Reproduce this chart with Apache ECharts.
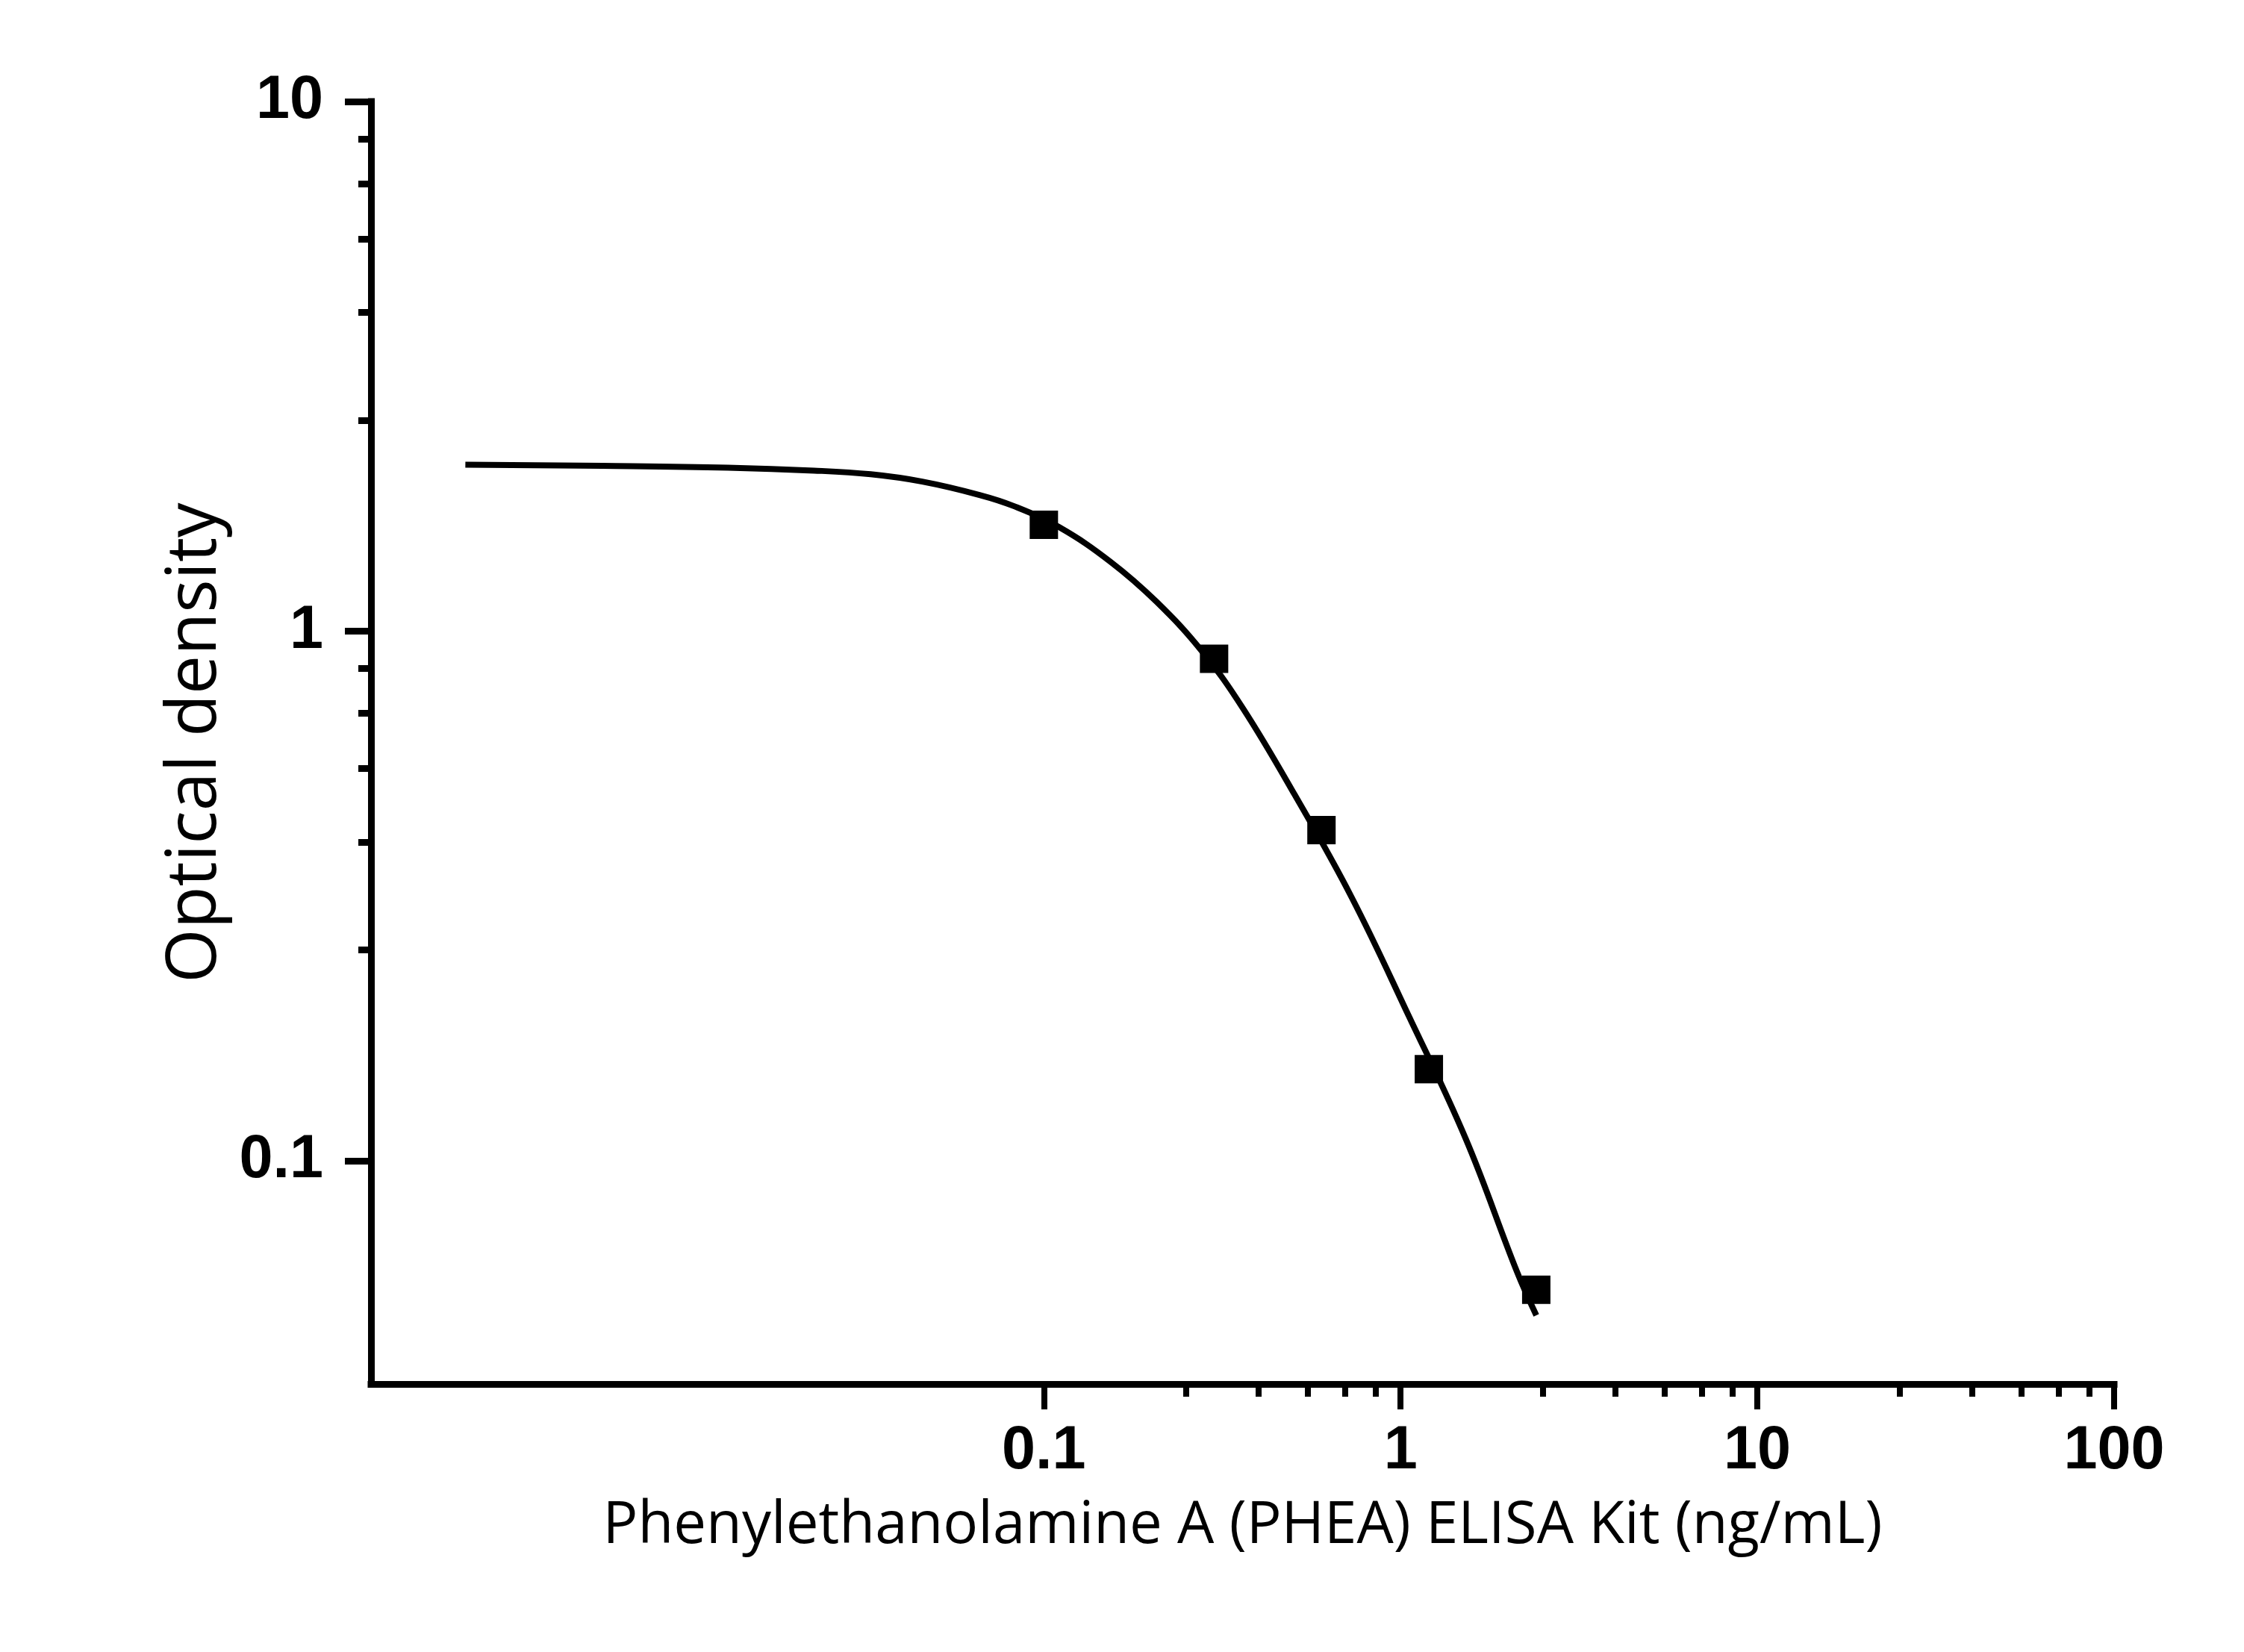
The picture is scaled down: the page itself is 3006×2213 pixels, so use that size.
<!DOCTYPE html>
<html>
<head>
<meta charset="utf-8">
<title>PHEA ELISA standard curve</title>
<script src="https://cdn.jsdelivr.net/npm/echarts@6/dist/echarts.min.js"></script>
<style>
    html, body { margin: 0; padding: 0; background: #fff; }
    #chart { width: 3006px; height: 2213px; }
</style>
</head>
<body>
<div id="chart"></div>
<script>
    // 标准点 (ng/mL, OD)
    let pointX = [0.1, 0.3, 0.6, 1.2, 2.4];
    let pointY = [1.588, 0.887, 0.421, 0.149, 0.0571];

    // 拟合曲线
    let curveX = [0.00239, 0.00579, 0.0130, 0.0227, 0.0327, 0.0456, 0.0660, 0.0823, 0.1105,
        0.154, 0.207, 0.278, 0.362, 0.504, 0.728, 1.053, 1.523, 2.122, 2.401];
    let curveY = [2.063, 2.052, 2.036, 2.010, 1.978, 1.916, 1.808, 1.723, 1.571,
        1.351, 1.136, 0.915, 0.714, 0.492, 0.315, 0.188, 0.110, 0.0616, 0.0511];

    // 刻度
    let xMajorTicks = [0.1, 1, 10, 100];
    let xMinorTicks = [0.25, 0.4, 0.55, 0.7, 0.85, 2.5, 4, 5.5, 7, 8.5, 25, 40, 55, 70, 85];
    let yMajorTicks = [0.1, 1, 10];
    let yMinorTicks = [0.25, 0.4, 0.55, 0.7, 0.85, 2.5, 4, 5.5, 7, 8.5];

    let xMin = 0.0013, xMax = 100;
    let yMin = 0.0379, yMax = 10;

    let xName = 'Phenylethanolamine A (PHEA) ELISA Kit (ng/mL)';
    let yName = 'Optical density';

    let tickFont = {
        fontFamily: 'Liberation Sans',
        fontWeight: 'bold',
        fontSize: 81,
        color: '#000'
    };

    function fmt(v) {
        return String(+Number(v).toPrecision(3));
    }

    let curveData = curveX.map((x, i) => [x, curveY[i]]);
    let pointData = pointX.map((x, i) => [x, pointY[i]]);

    let chart = echarts.init(document.getElementById('chart'), null, {renderer: 'canvas'});

    let option = {
        backgroundColor: '#fff',
        animation: false,
        grid: {
            left: 497,
            right: 174,
            top: 136,
            bottom: 359,
            containLabel: false
        },
        xAxis: [
            {
                type: 'log',
                logBase: 10,
                min: xMin,
                max: xMax,
                position: 'bottom',
                name: xName,
                nameLocation: 'middle',
                nameGap: 152,
                nameTextStyle: {
                    fontFamily: 'Open Sans',
                    fontSize: 78,
                    color: '#000'
                },
                axisLine: {
                    show: true,
                    lineStyle: {color: '#000', width: 9, cap: 'square'}
                },
                axisTick: {
                    show: true,
                    inside: false,
                    length: 34,
                    customValues: xMajorTicks,
                    lineStyle: {color: '#000', width: 8}
                },
                axisLabel: {
                    show: true,
                    margin: 50,
                    customValues: xMajorTicks,
                    formatter: fmt,
                    ...tickFont
                },
                minorTick: {show: false},
                splitLine: {show: false}
            },
            {
                // 次刻度
                type: 'log',
                logBase: 10,
                min: xMin,
                max: xMax,
                position: 'bottom',
                axisLine: {show: false},
                axisTick: {
                    show: true,
                    inside: false,
                    length: 17,
                    customValues: xMinorTicks,
                    lineStyle: {color: '#000', width: 8}
                },
                axisLabel: {show: false},
                splitLine: {show: false}
            }
        ],
        yAxis: [
            {
                type: 'log',
                logBase: 10,
                min: yMin,
                max: yMax,
                position: 'left',
                name: yName,
                nameLocation: 'middle',
                nameGap: 181,
                nameRotate: 90,
                nameTextStyle: {
                    fontFamily: 'Open Sans',
                    fontSize: 93,
                    color: '#000'
                },
                axisLine: {
                    show: true,
                    lineStyle: {color: '#000', width: 9, cap: 'square'}
                },
                axisTick: {
                    show: true,
                    inside: false,
                    length: 35,
                    customValues: yMajorTicks,
                    lineStyle: {color: '#000', width: 9}
                },
                axisLabel: {
                    show: true,
                    margin: 64,
                    customValues: yMajorTicks,
                    formatter: fmt,
                    ...tickFont
                },
                minorTick: {show: false},
                splitLine: {show: false}
            },
            {
                type: 'log',
                logBase: 10,
                min: yMin,
                max: yMax,
                position: 'left',
                axisLine: {show: false},
                axisTick: {
                    show: true,
                    inside: false,
                    length: 17,
                    customValues: yMinorTicks,
                    lineStyle: {color: '#000', width: 9}
                },
                axisLabel: {show: false},
                splitLine: {show: false}
            }
        ],
        series: [
            {
                name: 'fit',
                type: 'line',
                xAxisIndex: 0,
                yAxisIndex: 0,
                data: curveData,
                smooth: 0.4,
                showSymbol: false,
                symbol: 'none',
                lineStyle: {color: '#000', width: 8},
                z: 2
            },
            {
                name: 'standard',
                type: 'scatter',
                xAxisIndex: 0,
                yAxisIndex: 0,
                data: pointData,
                symbol: 'rect',
                symbolSize: 38,
                itemStyle: {color: '#000', opacity: 1},
                z: 3
            }
        ]
    };

    chart.setOption(option);
</script>
</body>
</html>
